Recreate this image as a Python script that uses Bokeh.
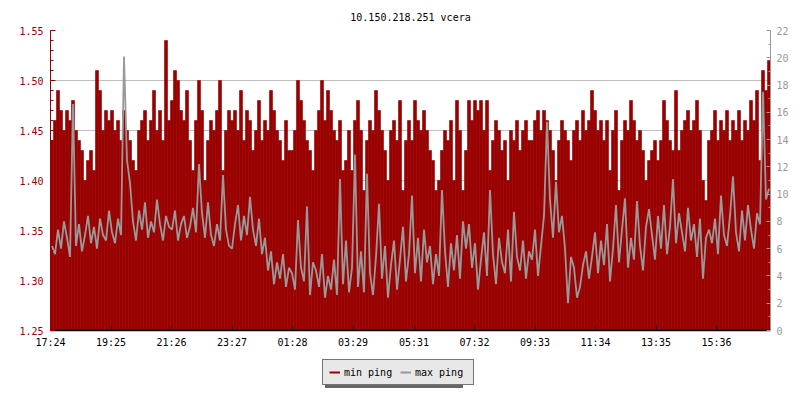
from bokeh.plotting import figure
from bokeh.layouts import column
from bokeh.models import (Range1d, LinearAxis, FixedTicker, Legend, LegendItem,
                          NumeralTickFormatter, ColumnDataSource)
from bokeh.embed import file_html
from bokeh.resources import INLINE

title_text = "10.150.218.251 vcera"
x_tick_labels = ["17:24", "19:25", "21:26", "23:27", "01:28", "03:29",
                 "05:31", "07:32", "09:33", "11:34", "13:35", "15:36"]
left_ticks = [1.25, 1.30, 1.35, 1.40, 1.45, 1.50, 1.55]
right_ticks = [0, 2, 4, 6, 8, 10, 12, 14, 16, 18, 20, 22]
series_names = ["min ping", "max ping"]
sample_minutes = 6
span_minutes = 1440

min_ping = [
    1.44, 1.46, 1.49, 1.47, 1.45, 1.47, 1.46, 1.48, 1.45, 1.44, 1.43, 1.40, 1.42, 1.43, 1.41, 1.51, 1.49, 1.45, 1.47, 1.46,
    1.47, 1.45, 1.46, 1.44, 1.47, 1.45, 1.44, 1.42, 1.41, 1.45, 1.46, 1.47, 1.44, 1.46, 1.49, 1.45, 1.47, 1.44, 1.54, 1.46,
    1.48, 1.51, 1.50, 1.47, 1.46, 1.49, 1.44, 1.41, 1.46, 1.50, 1.47, 1.40, 1.44, 1.46, 1.45, 1.47, 1.50, 1.41, 1.45, 1.47,
    1.46, 1.47, 1.45, 1.49, 1.44, 1.47, 1.46, 1.43, 1.45, 1.48, 1.44, 1.46, 1.45, 1.49, 1.47, 1.45, 1.44, 1.42, 1.46, 1.43,
    1.43, 1.45, 1.50, 1.48, 1.46, 1.44, 1.43, 1.41, 1.45, 1.47, 1.50, 1.46, 1.49, 1.47, 1.45, 1.44, 1.46, 1.41, 1.42, 1.45,
    1.41, 1.46, 1.48, 1.45, 1.39, 1.44, 1.46, 1.45, 1.49, 1.47, 1.45, 1.43, 1.40, 1.45, 1.46, 1.44, 1.48, 1.39, 1.44, 1.46,
    1.44, 1.48, 1.46, 1.45, 1.47, 1.45, 1.43, 1.42, 1.39, 1.40, 1.43, 1.45, 1.44, 1.46, 1.40, 1.48, 1.45, 1.39, 1.43, 1.48,
    1.46, 1.48, 1.47, 1.48, 1.45, 1.48, 1.41, 1.44, 1.46, 1.45, 1.43, 1.44, 1.40, 1.45, 1.44, 1.46, 1.43, 1.45, 1.46, 1.44,
    1.44, 1.46, 1.47, 1.45, 1.47, 1.46, 1.45, 1.43, 1.40, 1.44, 1.46, 1.45, 1.44, 1.42, 1.45, 1.46, 1.44, 1.47, 1.45, 1.46,
    1.49, 1.47, 1.45, 1.46, 1.44, 1.46, 1.41, 1.45, 1.47, 1.39, 1.44, 1.46, 1.45, 1.48, 1.46, 1.44, 1.45, 1.43, 1.40, 1.42,
    1.43, 1.44, 1.42, 1.44, 1.48, 1.46, 1.44, 1.43, 1.49, 1.43, 1.45, 1.46, 1.47, 1.45, 1.46, 1.48, 1.45, 1.40, 1.38, 1.44,
    1.45, 1.47, 1.44, 1.46, 1.45, 1.47, 1.44, 1.46, 1.45, 1.47, 1.44, 1.46, 1.45, 1.48, 1.46, 1.49, 1.42, 1.51, 1.49, 1.52,
]

max_ping = [
    6.2, 5.6, 7.4, 6.0, 8.0, 6.8, 5.4, 16.6, 6.2, 7.8, 5.8, 7.0, 8.4, 6.4, 7.6, 6.0, 8.2, 7.0, 6.6, 8.8,
    7.2, 6.4, 8.2, 7.0, 20.1, 12.5, 10.8, 8.0, 6.6, 8.8, 7.4, 9.4, 6.8, 8.0, 7.2, 9.6, 7.8, 6.6, 8.4, 7.6,
    7.4, 8.8, 6.6, 7.8, 8.4, 6.8, 7.6, 9.0, 7.2, 12.2, 8.6, 6.8, 9.4, 7.0, 6.2, 7.8, 6.6, 11.4, 7.4, 6.2,
    6.0, 7.8, 9.2, 6.6, 8.4, 7.0, 9.8, 7.4, 6.2, 8.2, 5.6, 6.8, 4.4, 5.8, 3.4, 5.0, 3.8, 5.6, 3.2, 4.6,
    4.2, 3.0, 8.1, 4.6, 3.6, 9.1, 2.6, 5.0, 4.4, 3.2, 5.6, 2.4, 4.0, 3.0, 5.2, 2.6, 11.1, 3.4, 6.6, 2.8,
    4.6, 12.9, 3.2, 5.8, 2.8, 11.5, 4.2, 2.6, 5.4, 9.3, 3.8, 6.2, 2.4, 4.8, 6.6, 3.0, 5.2, 7.6, 3.6, 5.6,
    9.9, 4.2, 6.8, 3.6, 7.4, 5.0, 6.2, 3.4, 5.6, 4.0, 10.3, 5.8, 3.2, 6.4, 4.4, 7.0, 3.8, 8.0, 6.0, 7.8,
    4.6, 6.4, 3.0, 5.2, 7.2, 4.0, 10.3, 5.6, 3.4, 6.8, 5.0, 4.2, 7.4, 3.6, 8.7, 5.4, 4.4, 6.6, 3.8, 5.8,
    5.2, 7.4, 4.0, 6.2, 8.4, 15.3, 9.6, 6.8, 10.9, 7.2, 8.4, 6.0, 2.0, 5.4, 4.6, 2.4, 3.2, 4.8, 5.8, 3.8,
    5.4, 7.2, 4.2, 6.6, 4.8, 7.8, 3.6, 6.0, 9.2, 5.0, 7.4, 9.7, 4.6, 6.8, 5.2, 9.5, 6.2, 4.4, 7.6, 8.9,
    7.0, 5.2, 8.4, 6.0, 9.2, 5.6, 7.6, 11.1, 6.4, 8.6, 7.2, 5.8, 9.0, 6.6, 7.8, 5.4, 8.2, 3.8, 6.8, 7.4,
    6.4, 8.2, 5.6, 9.9, 7.0, 6.2, 8.4, 11.3, 7.2, 5.8, 8.8, 6.6, 9.2, 7.4, 6.0, 8.6, 7.8, 17.5, 9.6, 10.4,
]

RED = "#990000"
GRAY = "#999999"
FONT = "DejaVu Sans Mono"


def label_minutes(lbl, start):
    h, m = map(int, lbl.split(":"))
    sh, sm = map(int, start.split(":"))
    return ((h * 60 + m) - (sh * 60 + sm)) % 1440


x_tick_pos = [label_minutes(l, x_tick_labels[0]) for l in x_tick_labels]
xs = [i * sample_minutes + sample_minutes / 2 for i in range(len(min_ping))]

src = ColumnDataSource(dict(x=xs, lo=min_ping, hi=max_ping))

# ---------------- main chart ----------------
p = figure(width=800, height=350, output_backend="svg", toolbar_location=None,
           x_range=Range1d(0, span_minutes), y_range=Range1d(left_ticks[0], left_ticks[-1]),
           min_border_left=50, min_border_right=30, min_border_top=30, min_border_bottom=20)
p.extra_y_ranges = {"right": Range1d(right_ticks[0], right_ticks[-1])}
p.outline_line_color = None
p.background_fill_color = "white"
p.border_fill_color = "white"

p.title.text = title_text
p.title.align = "center"
p.title.text_font = FONT
p.title.text_font_size = "10px"
p.title.text_font_style = "normal"
p.title.text_color = "black"
p.title.standoff = 16

p.vbar(x="x", width=sample_minutes, bottom=left_ticks[0], top="lo", source=src,
       fill_color=RED, line_color=RED, line_width=0.6)
p.line(x="x", y="hi", source=src, y_range_name="right",
       line_color=GRAY, line_width=1.8)

# left axis
lax = p.yaxis[0]
lax.ticker = FixedTicker(ticks=left_ticks,
                         minor_ticks=[round(left_ticks[0] + 0.01 * k, 2) for k in range(31)])
lax.formatter = NumeralTickFormatter(format="0.00")
lax.axis_line_color = RED
lax.major_tick_line_color = RED
lax.minor_tick_line_color = RED
lax.major_tick_in = 5
lax.major_tick_out = 0
lax.minor_tick_in = 3
lax.minor_tick_out = 0
lax.major_label_text_color = RED
lax.major_label_text_font = FONT
lax.major_label_text_font_size = "10px"
lax.major_label_standoff = 7

# right axis
rax = LinearAxis(y_range_name="right",
                 ticker=FixedTicker(ticks=right_ticks, minor_ticks=list(range(0, 23))))
rax.axis_line_color = GRAY
rax.major_tick_line_color = GRAY
rax.minor_tick_line_color = GRAY
rax.major_tick_in = 4
rax.major_tick_out = 0
rax.minor_tick_in = 2
rax.minor_tick_out = 0
rax.major_label_text_color = GRAY
rax.major_label_text_font = FONT
rax.major_label_text_font_size = "10px"
rax.major_label_standoff = 6
p.add_layout(rax, "right")

# bottom axis
bax = p.xaxis[0]
bax.ticker = FixedTicker(ticks=x_tick_pos, minor_ticks=[])
bax.major_label_overrides = {pos: lbl for pos, lbl in zip(x_tick_pos, x_tick_labels)}
bax.axis_line_color = "black"
bax.axis_line_width = 1.5
bax.major_tick_line_color = "black"
bax.major_tick_in = 5
bax.major_tick_out = 0
bax.major_label_text_color = "black"
bax.major_label_text_font = FONT
bax.major_label_text_font_size = "10px"
bax.major_label_standoff = 6

p.xgrid.grid_line_color = None
p.ygrid.ticker = FixedTicker(ticks=left_ticks)
p.ygrid.grid_line_color = "#c0c0c0"
p.ygrid.grid_line_width = 1

# ---------------- legend strip ----------------
lf = figure(width=800, height=50, output_backend="svg", toolbar_location=None,
            x_range=Range1d(0, 1), y_range=Range1d(0, 1),
            x_axis_type=None, y_axis_type=None,
            min_border_left=0, min_border_right=0, min_border_top=0, min_border_bottom=0)
lf.outline_line_color = None
lf.xgrid.visible = False
lf.ygrid.visible = False
lf.background_fill_color = "white"
lf.border_fill_color = "white"

# legend sample renderers: points lie outside the visible range
r_min = lf.line(x=[5, 6], y=[5, 6], line_color=RED, line_width=2)
r_max = lf.line(x=[5, 6], y=[5, 6], line_color=GRAY, line_width=2)
r_inv = lf.line(x=[5, 6], y=[5, 6], line_color=GRAY, line_alpha=0, line_width=2)


def make_legend(renderers, loc, bg, border, text_alpha):
    return Legend(items=[LegendItem(label=n, renderers=[r]) for n, r in zip(series_names, renderers)],
                  location=loc, orientation="horizontal",
                  background_fill_color=bg, background_fill_alpha=1.0,
                  border_line_color=border, border_line_width=1,
                  label_text_font=FONT, label_text_font_size="10px",
                  label_text_color="black", label_text_alpha=text_alpha,
                  glyph_width=11, glyph_height=12, label_height=12, label_width=52,
                  label_standoff=4, spacing=4, padding=6, margin=0)


lf.add_layout(make_legend([r_inv, r_inv], (275, 12), "#666666", None, 0.0))
lf.add_layout(make_legend([r_min, r_max], (272, 15), "#e8e8e8", "black", 1.0))

layout = column(p, lf, spacing=0)
open("out.html", "w").write(file_html(layout, INLINE))
